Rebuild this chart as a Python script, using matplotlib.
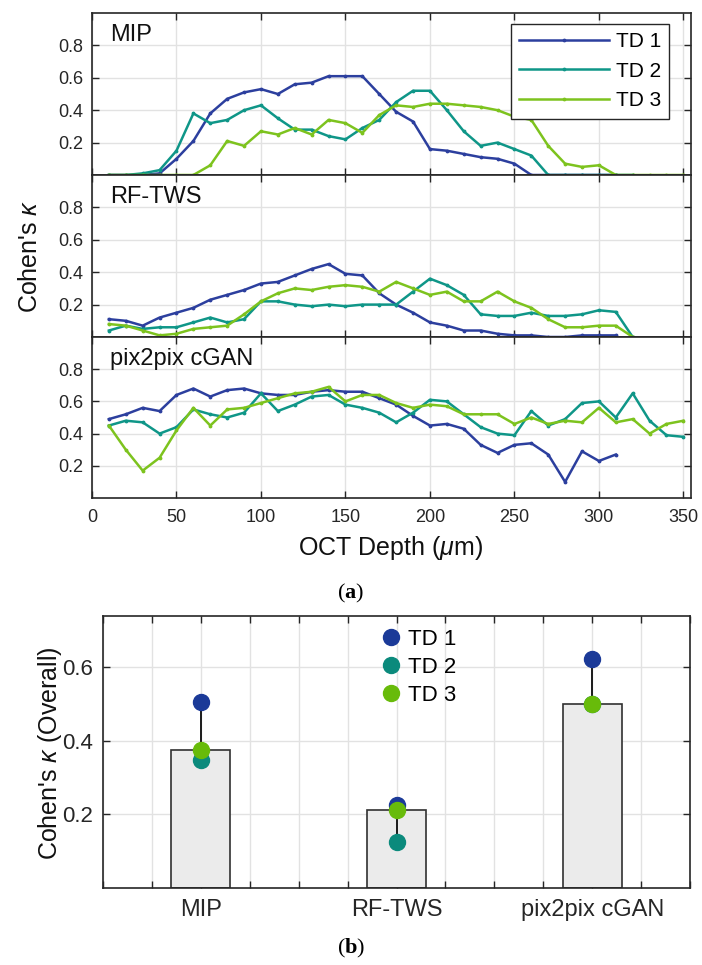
import numpy as np
import matplotlib
matplotlib.use("Agg")
import matplotlib.pyplot as plt

plt.rcParams['font.family'] = ['Liberation Sans', 'DejaVu Sans']
plt.rcParams['mathtext.fontset'] = 'custom'
plt.rcParams['mathtext.rm'] = 'Liberation Sans'
plt.rcParams['mathtext.it'] = 'Liberation Sans:italic'
plt.rcParams['mathtext.bf'] = 'Liberation Serif:bold'

# depth samples (um)
depth = [10, 20, 30, 40, 50, 60, 70, 80, 90, 100, 110, 120, 130, 140, 150, 160, 170, 180,
         190, 200, 210, 220, 230, 240, 250, 260, 270, 280, 290, 300, 310, 320, 330, 340, 350]

# (a) per-depth kappa, TD1 runs to 310, others as read
mip_td1 = [0.0, 0.0, 0.0, 0.01, 0.10, 0.21, 0.38, 0.47, 0.51, 0.53, 0.50, 0.56, 0.57, 0.61, 0.61,
           0.61, 0.50, 0.39, 0.33, 0.16, 0.15, 0.13, 0.11, 0.10, 0.07, 0.0, 0.0, 0.0, 0.0, 0.0, 0.0]
mip_td2 = [0.0, 0.0, 0.01, 0.03, 0.15, 0.38, 0.32, 0.34, 0.40, 0.43, 0.35, 0.28, 0.28, 0.24, 0.22,
           0.29, 0.34, 0.45, 0.52, 0.52, 0.40, 0.27, 0.18, 0.20, 0.16, 0.12, 0.0, 0.0, 0.0, 0.0,
           0.0, 0.0]
mip_td3 = [0.0, 0.0, 0.0, 0.0, 0.0, 0.0, 0.06, 0.21, 0.18, 0.27, 0.25, 0.29, 0.25, 0.34, 0.32,
           0.26, 0.37, 0.43, 0.42, 0.44, 0.44, 0.43, 0.42, 0.40, 0.36, 0.34, 0.18, 0.07, 0.05, 0.06,
           0.0, 0.0, 0.0, 0.0, 0.0]

rf_td1 = [0.11, 0.10, 0.07, 0.12, 0.15, 0.18, 0.23, 0.26, 0.29, 0.33, 0.34, 0.38, 0.42, 0.45, 0.39,
          0.38, 0.27, 0.20, 0.15, 0.09, 0.07, 0.04, 0.04, 0.02, 0.01, 0.01, 0.0, 0.0, 0.01, 0.01, 0.01]
rf_td2 = [0.04, 0.07, 0.05, 0.06, 0.06, 0.09, 0.12, 0.09, 0.11, 0.22, 0.22, 0.20, 0.19, 0.20, 0.19,
          0.20, 0.20, 0.20, 0.28, 0.36, 0.32, 0.26, 0.14, 0.13, 0.13, 0.15, 0.13, 0.13, 0.14, 0.165,
          0.155, 0.0]
rf_td3 = [0.08, 0.07, 0.04, 0.01, 0.02, 0.05, 0.06, 0.07, 0.14, 0.22, 0.27, 0.30, 0.29, 0.31, 0.32,
          0.31, 0.28, 0.34, 0.30, 0.26, 0.28, 0.22, 0.22, 0.28, 0.22, 0.18, 0.11, 0.06, 0.06, 0.07,
          0.07, 0.0]

gan_td1 = [0.49, 0.52, 0.56, 0.54, 0.64, 0.68, 0.63, 0.67, 0.68, 0.65, 0.64, 0.64, 0.66, 0.67, 0.66,
           0.66, 0.62, 0.58, 0.51, 0.45, 0.46, 0.43, 0.33, 0.28, 0.33, 0.34, 0.27, 0.10, 0.29, 0.23,
           0.27]
gan_td2 = [0.45, 0.48, 0.47, 0.40, 0.44, 0.55, 0.52, 0.50, 0.53, 0.65, 0.54, 0.58, 0.63, 0.64, 0.58,
           0.56, 0.53, 0.47, 0.53, 0.61, 0.60, 0.52, 0.44, 0.40, 0.39, 0.54, 0.45, 0.49, 0.59, 0.60,
           0.50, 0.65, 0.48, 0.39, 0.38]
gan_td3 = [0.45, 0.30, 0.17, 0.25, 0.42, 0.56, 0.45, 0.55, 0.56, 0.59, 0.62, 0.65, 0.66, 0.69, 0.60,
           0.64, 0.64, 0.59, 0.56, 0.58, 0.57, 0.52, 0.52, 0.52, 0.46, 0.50, 0.46, 0.48, 0.47, 0.56,
           0.47, 0.49, 0.40, 0.46, 0.48]

panel_names = ['MIP', 'RF-TWS', 'pix2pix cGAN']
td_labels = ['TD 1', 'TD 2', 'TD 3']

# (b) overall kappa per method
methods = ['MIP', 'RF-TWS', 'pix2pix cGAN']
overall_td1 = [0.506, 0.226, 0.624]
overall_td2 = [0.348, 0.123, 0.499]
overall_td3 = [0.374, 0.212, 0.501]

line_colors = ['#2c3f9e', '#0f9688', '#7dc31e']
dot_colors = ['#1b3a98', '#0b8a7c', '#68bb0a']
edge = '#262626'
grid_c = '#e2e2e2'

fig = plt.figure(figsize=(7.02, 9.65), dpi=100)
W, H = 702.0, 965.0


def box(l, t, r, b):
    return [l / W, 1 - b / H, (r - l) / W, (b - t) / H]


def style(ax):
    ax.grid(True, color=grid_c, linewidth=1.0)
    ax.set_axisbelow(True)
    for s in ax.spines.values():
        s.set_color(edge)
        s.set_linewidth(1.2)
    ax.tick_params(direction='in', length=5, width=1.0, color=edge, labelcolor=edge,
                   top=True, right=True, labelsize=13)


panels = [
    (box(92, 13, 691, 175), (5.8, 354.5), [mip_td1, mip_td2, mip_td3]),
    (box(92, 175, 691, 337), (5.8, 354.5), [rf_td1, rf_td2, rf_td3]),
    (box(92, 337, 691, 498), (0, 354.5), [gan_td1, gan_td2, gan_td3]),
]

axes = []
for i, (pos, xl, series) in enumerate(panels):
    ax = fig.add_axes(pos)
    style(ax)
    for k, vals in enumerate(series):
        ax.plot(depth[:len(vals)], vals, color=line_colors[k], lw=1.8, marker='.',
                markersize=3.5, label=td_labels[k])
    ax.set_xlim(*xl)
    ax.set_ylim(0, 1)
    ax.set_yticks([0.2, 0.4, 0.6, 0.8])
    ax.set_yticklabels(['0.2', '0.4', '0.6', '0.8'])
    ax.set_xticks(np.arange(0, 351, 50))
    ax.tick_params(axis='y', pad=6)
    ax.tick_params(axis='x', pad=8)
    if i < 2:
        ax.tick_params(labelbottom=False)
    ax.text(0.03, 0.93, panel_names[i], transform=ax.transAxes, fontsize=17,
            ha='left', va='top', color='#111111')
    axes.append(ax)

leg = axes[0].legend(loc='upper right', bbox_to_anchor=(0.964, 0.932), borderaxespad=0,
                     fontsize=15, handlelength=4.3, handletextpad=0.35, labelspacing=0.5,
                     fancybox=False, framealpha=1, edgecolor=edge, numpoints=1,
                     borderpad=0.4)
leg.get_frame().set_linewidth(1.0)

fig.text(30 / W, 1 - 256 / H, r"Cohen's $\kappa$", rotation=90, ha='center', va='center',
         fontsize=18, color='#111111')
fig.text(391 / W, 1 - 548 / H, r'OCT Depth ($\mu$m)', ha='center', va='center',
         fontsize=18, color='#111111')
fig.text(351 / W, 1 - 593 / H, r'($\mathbf{a}$)', ha='center', va='center', fontsize=16,
         family='Liberation Serif')

# (b) bar chart
axb = fig.add_axes(box(103, 616, 690, 887.5))
style(axb)
xpos = np.arange(1, len(methods) + 1)
stack = np.array([overall_td1, overall_td2, overall_td3])
med = np.median(stack, axis=0)
lo = med - stack.min(axis=0)
hi = stack.max(axis=0) - med
axb.bar(xpos, med, width=0.3, color='#ebebeb', edgecolor='#303030', linewidth=1.2, zorder=2)
axb.errorbar(xpos, med, yerr=[lo, hi], fmt='none', ecolor='#1a1a1a', elinewidth=1.4,
             capsize=6, capthick=1.0, zorder=3)
for k, vals in enumerate([overall_td1, overall_td2, overall_td3]):
    axb.plot(xpos, vals, linestyle='none', marker='o', markersize=11.5,
             color=dot_colors[k], markeredgecolor=dot_colors[k], label=td_labels[k], zorder=4)
axb.set_xlim(0.5, 3.5)
axb.set_ylim(0, 0.74)
xt = np.arange(0.5, 3.51, 0.25)
axb.set_xticks(xt)
axb.set_xticklabels([methods[int(v) - 1] if float(v).is_integer() and 1 <= v <= 3 else ''
                     for v in xt])
axb.set_yticks([0.2, 0.4, 0.6])
axb.set_yticklabels(['0.2', '0.4', '0.6'])
axb.tick_params(axis='x', labelsize=17, pad=8)
axb.tick_params(axis='y', labelsize=16, pad=7)
axb.legend(loc='upper left', bbox_to_anchor=((372 - 103) / 587, 0.985), frameon=False,
           fontsize=16, handlelength=0.9, handletextpad=0.3, labelspacing=0.32,
           borderaxespad=0)

fig.text(50 / W, 1 - 753 / H, r"Cohen's $\kappa$ (Overall)", rotation=90, ha='center',
         va='center', fontsize=18, color='#111111')
fig.text(351 / W, 1 - 948 / H, r'($\mathbf{b}$)', ha='center', va='center', fontsize=16,
         family='Liberation Serif')

fig.savefig('out.png', dpi=100)
